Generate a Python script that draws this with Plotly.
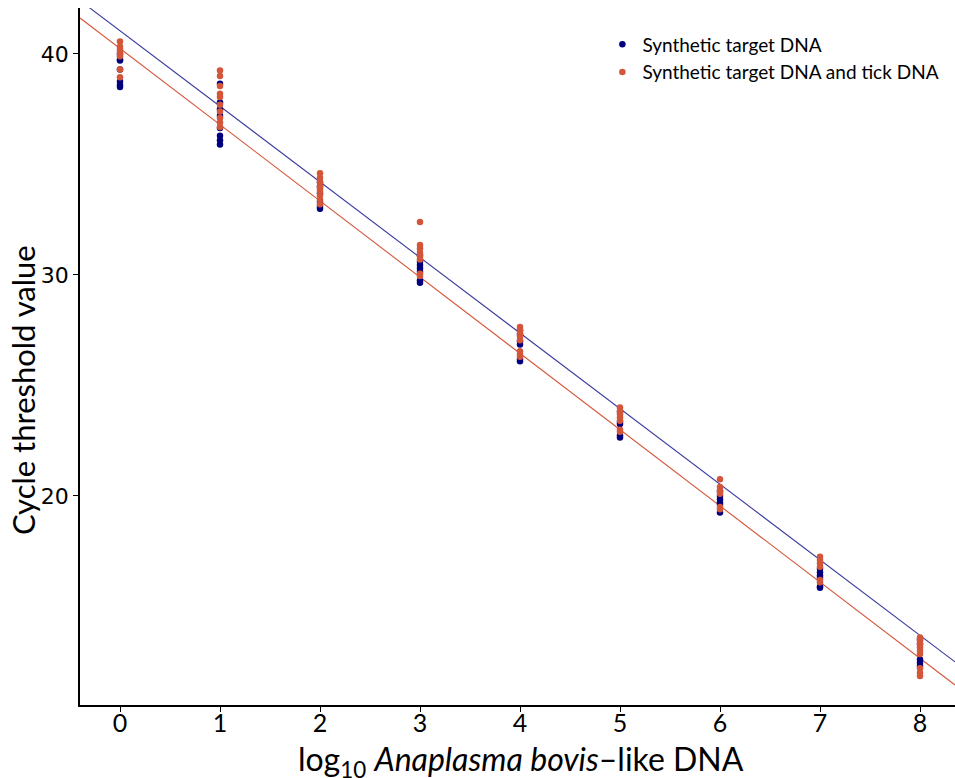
import plotly.graph_objects as go

# ---- data ----
log_dna = [0, 1, 2, 3, 4, 5, 6, 7, 8]

ct_synthetic = [
    [40.0, 39.75, 39.7, 39.3, 38.75, 38.6, 38.5],
    [38.65, 37.8, 37.5, 37.2, 36.65, 36.3, 36.1, 35.9],
    [34.2, 34.0, 33.7, 33.3, 33.1, 33.0],
    [30.9, 30.6, 30.45, 30.3, 30.15, 29.75, 29.65],
    [27.5, 27.3, 27.0, 26.85, 26.2, 26.1],
    [23.8, 23.35, 23.25, 22.75, 22.65],
    [20.2, 20.0, 19.85, 19.7, 19.6, 19.25],
    [16.7, 16.55, 16.4, 16.3, 15.9, 15.85],
    [13.5, 13.3, 12.6, 12.45, 12.3],
]
ct_synthetic_tick = [
    [40.56, 40.33, 40.2, 40.1, 40.0, 39.9, 39.3, 38.95],
    [39.25, 39.0, 38.55, 38.2, 38.05, 37.7, 37.4, 37.1, 36.9, 36.7],
    [34.6, 34.4, 34.2, 34.0, 33.9, 33.8, 33.6, 33.4, 33.2],
    [32.4, 31.35, 31.2, 31.0, 30.85, 30.7, 30.05, 29.95],
    [27.65, 27.5, 27.35, 27.2, 27.05, 26.55, 26.4, 26.3],
    [24.0, 23.85, 23.7, 23.55, 23.4, 23.0, 22.9],
    [20.75, 20.4, 20.25, 20.1, 19.5, 19.4],
    [17.25, 17.1, 16.95, 16.8, 16.2, 16.1],
    [13.6, 13.45, 13.3, 13.15, 13.0, 12.85, 12.2, 12.0, 11.85],
]
# regression lines (intercept, slope)
fit_synthetic = (41.05, -3.42)
fit_synthetic_tick = (40.25, -3.45)

series_names = ["Synthetic target DNA", "Synthetic target DNA and tick DNA"]
x_title = "log<sub>10</sub> <i>Anaplasma bovis</i>–like DNA"
y_title = "Cycle threshold value"
x_ticks = [0, 1, 2, 3, 4, 5, 6, 7, 8]
y_ticks = [20, 30, 40]
x_range = [-0.4, 8.35]
y_range = [10.54, 42.08]

BLUE = "#00007f"
RED = "#d4563a"
BLUE_LINE = "#3a3a9e"


def flatten(groups):
    xs, ys = [], []
    for x, vals in zip(log_dna, groups):
        for v in vals:
            xs.append(x)
            ys.append(v)
    return xs, ys


fig = go.Figure()

for (b0, b1), col in [(fit_synthetic, BLUE_LINE), (fit_synthetic_tick, RED)]:
    fig.add_trace(go.Scatter(
        x=x_range, y=[b0 + b1 * x_range[0], b0 + b1 * x_range[1]],
        mode="lines", line=dict(color=col, width=1.1),
        showlegend=False, hoverinfo="skip"))

for groups, name, col in [(ct_synthetic, series_names[0], BLUE),
                          (ct_synthetic_tick, series_names[1], RED)]:
    xs, ys = flatten(groups)
    fig.add_trace(go.Scatter(
        x=xs, y=ys, mode="markers", name=name,
        marker=dict(color=col, size=6.5, line=dict(width=0))))

fig.update_layout(
    width=955, height=778,
    margin=dict(l=80, r=0, t=8, b=73),
    paper_bgcolor="white", plot_bgcolor="white",
    font=dict(family="Lato", color="black"),
    legend=dict(x=0.597, y=0.975, xanchor="left", yanchor="top",
                bgcolor="rgba(0,0,0,0)", font=dict(size=19, family="Lato"),
                itemwidth=30, tracegroupgap=0),
    xaxis=dict(range=x_range, tickvals=x_ticks, showgrid=False, zeroline=False,
               showline=True, linecolor="black", linewidth=1.6,
               ticks="outside", ticklen=5, tickcolor="black", tickwidth=1,
               ticklabelstandoff=-10,
               tickfont=dict(size=25, family="Lato")),
    yaxis=dict(range=y_range, tickvals=y_ticks, showgrid=False, zeroline=False,
               showline=True, linecolor="black", linewidth=1.6,
               ticks="outside", ticklen=5, tickcolor="black", tickwidth=1,
               tickfont=dict(size=22, family="DejaVu Sans")),
    annotations=[
        dict(text=y_title, xref="paper", yref="paper",
             x=-0.065, y=0.452, xanchor="center", yanchor="middle",
             textangle=-90, showarrow=False,
             font=dict(size=31, family="Lato", color="black")),
        dict(text=x_title, xref="paper", yref="paper",
             x=0.504, y=-0.046, xanchor="center", yanchor="top",
             showarrow=False,
             font=dict(size=32, family="Lato", color="black")),
    ],
)

fig.write_html("out.html", config={"displayModeBar": False},
               post_script="document.body.style.margin='0';")
